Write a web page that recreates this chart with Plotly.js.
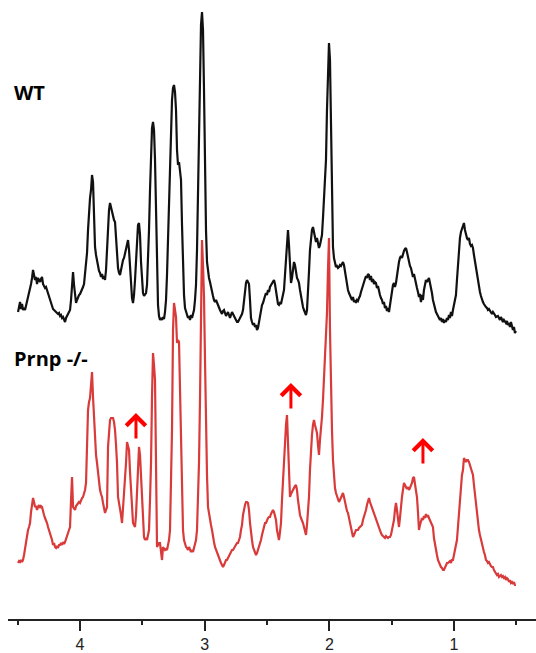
<!DOCTYPE html>
<html>
<head>
<meta charset="utf-8">
<script src="https://cdn.plot.ly/plotly-3.0.1.min.js"></script>
<style>html,body{margin:0;padding:0;background:#fff;}#chart{width:536px;height:653px;}</style>
</head>
<body>
<div id="chart"></div>
<script>
// Chemical-shift sampling of the spectra (ppm)
const ppmStart = 4.497;
const ppmStep = -0.00802;

// WT spectrum intensity (a.u., relative to its own baseline)
const wtIntensity = [
52,59,62,55,60,54,56,54,58,64,
68,72,76,80,86,94,89,84,87,80,
86,84,82,85,87,80,78,76,77,74,
71,67,64,60,58,55,54,53,52,52,
50,51,48,49,46,47,44,42,46,48,
50,51,54,64,79,92,79,66,61,64,
68,69,70,72,74,77,80,89,102,111,
134,154,166,174,189,182,149,117,109,102,
96,93,91,87,90,85,88,84,94,119,
142,154,161,157,152,146,144,142,124,106,
96,91,89,94,102,104,106,110,114,119,
124,114,94,79,66,61,69,84,106,129,
139,141,129,102,81,71,68,69,71,79,
99,134,174,214,236,242,234,204,149,94,
59,48,44,46,44,47,45,52,64,89,
124,164,204,239,264,276,279,272,254,214,
199,202,194,184,139,94,69,56,52,51,
46,48,44,49,46,50,54,64,79,114,
174,244,304,339,352,334,274,194,134,102,
91,86,82,76,72,68,64,62,64,61,
58,56,54,52,50,53,54,51,48,50,
52,49,46,49,52,50,48,46,44,42,
42,44,46,48,50,54,64,74,81,84,
82,80,64,46,42,39,41,37,39,34,
36,42,46,52,59,61,66,68,71,69,
74,72,77,79,81,83,84,80,72,64,
60,59,61,60,64,69,74,89,109,126,
134,119,89,81,86,96,102,99,92,86,
84,81,74,67,61,57,54,51,49,54,
69,92,114,126,134,137,132,124,122,126,
120,116,119,124,129,146,164,174,204,254,
304,321,304,244,164,117,106,101,97,98,
96,97,99,98,101,102,99,92,84,78,
74,71,69,66,64,67,62,64,61,64,
63,66,68,72,76,79,82,85,88,86,
90,89,84,88,82,85,80,82,81,76,
78,72,69,66,64,60,62,56,58,53,
56,52,59,66,74,79,81,77,81,89,
96,102,106,108,106,111,113,115,116,112,
106,102,98,96,91,87,90,84,80,76,
72,67,70,62,69,64,74,79,84,82,
85,86,81,77,71,64,59,55,52,50,
48,47,44,46,42,45,41,44,42,46,
44,49,46,52,48,54,59,62,69,84,
102,116,126,132,136,139,141,134,129,126,
124,126,120,118,119,116,109,102,96,89,
82,77,72,68,64,62,60,58,57,56,
54,55,53,52,50,52,51,49,47,48,
48,46,44,47,45,42,44,43,41,43,
39,41,37,42,38,34,37,31,33
];

// Prnp -/- spectrum intensity (a.u.)
const koIntensity = [
56,58,57,59,57,59,64,71,79,84,
89,92,96,107,114,121,117,112,113,109,
112,114,111,113,112,107,104,101,99,96,
92,89,86,82,79,74,76,72,71,73,
71,74,74,76,74,77,75,77,81,84,
86,89,92,119,142,112,111,109,113,114,
115,117,116,119,121,122,125,129,136,169,
209,217,221,234,247,222,199,176,164,156,
144,136,129,125,122,116,109,106,109,112,
172,187,199,201,201,201,197,189,174,156,
122,117,112,104,96,109,122,139,156,177,
174,169,147,126,109,96,94,92,104,122,
149,172,164,144,119,94,82,79,81,79,
84,89,119,156,222,266,254,239,156,72,
74,76,76,67,59,72,71,69,70,69,
74,79,89,129,189,289,316,309,302,276,
279,277,229,189,156,89,79,74,72,71,
69,72,69,67,69,67,71,74,79,89,
119,156,219,289,379,354,322,259,189,144,
112,104,99,94,89,81,77,72,69,66,
64,61,59,56,54,52,54,57,59,59,
61,64,66,67,69,69,71,72,74,76,
76,79,82,89,94,104,112,114,117,117,
116,109,96,84,79,72,69,67,64,66,
69,72,76,79,84,89,91,96,96,99,
101,102,102,105,107,109,107,104,99,89,
83,79,87,96,119,139,161,182,194,204,
172,144,122,125,127,129,132,133,134,129,
119,109,104,101,99,96,92,89,84,94,
109,122,149,172,184,194,199,194,189,186,
174,164,179,189,202,219,239,269,289,306,
349,381,289,229,189,159,139,131,126,122,
119,117,119,121,124,126,122,116,111,108,
106,101,96,91,86,82,84,87,89,89,
89,91,92,93,94,99,102,106,109,114,
119,121,117,114,112,109,105,102,99,96,
93,91,89,86,84,83,82,81,83,82,
81,82,82,84,89,95,99,109,116,109,
99,92,101,114,122,129,136,134,132,130,
132,129,131,133,136,141,142,135,127,122,
107,89,94,99,101,99,103,101,105,102,
104,101,99,96,94,92,81,74,69,64,
59,56,54,52,51,49,49,51,53,56,
56,57,58,56,59,59,64,67,72,79,
92,106,119,134,144,149,161,159,157,159,
159,157,154,151,147,144,134,124,116,107,
99,89,84,79,74,72,67,64,59,58,
56,57,54,53,52,52,49,47,46,44,
45,42,43,44,42,43,41,42,39,41,
40,37,39,36,37,35,37,34,34
];

// Peaks increased in Prnp -/- (arrow tips: ppm, intensity)
const arrowPpm = [3.551, 2.308, 1.249];
const arrowIntensity = [206, 236, 181];

// Axis ticks
const tickValues = [4, 3, 2, 1];
const tickLabels = ['4', '3', '2', '1'];

// Sample labels
const sampleLabels = ['WT', 'Prnp -/-'];

const WT_OFFSET = 255;

const traces = [
  {
    type: 'scatter', mode: 'lines', name: sampleLabels[1],
    x0: ppmStart, dx: ppmStep, y: koIntensity,
    line: {color: '#d93a3a', width: 2.2}, hoverinfo: 'skip'
  },
  {
    type: 'scatter', mode: 'lines', name: sampleLabels[0],
    x0: ppmStart, dx: ppmStep, y: wtIntensity.map(v => v + WT_OFFSET),
    line: {color: '#111111', width: 2.2}, hoverinfo: 'skip'
  }
];

const annotations = [
  {xref: 'paper', yref: 'paper', x: 0.0076, y: 0.851, xanchor: 'left', yanchor: 'middle',
   text: '<b>' + sampleLabels[0] + '</b>', showarrow: false,
   font: {family: 'Open Sans, sans-serif', size: 20, color: '#000'}},
  {xref: 'paper', yref: 'paper', x: 0.0076, y: 0.4216, xanchor: 'left', yanchor: 'middle',
   text: '<b>' + sampleLabels[1] + '</b>', showarrow: false,
   font: {family: 'Open Sans, sans-serif', size: 20, color: '#000'}}
];
arrowPpm.forEach((p, i) => {
  annotations.push({
    xref: 'x', yref: 'y', x: p, y: arrowIntensity[i], text: '',
    showarrow: true, ax: 0, ay: 27, arrowhead: 4, arrowsize: 1.25, arrowwidth: 3,
    arrowcolor: '#ff0000', standoff: 0
  });
});

const layout = {
  width: 536, height: 653,
  margin: {l: 8, r: 0, t: 0, b: 34, pad: 0},
  paper_bgcolor: '#fff', plot_bgcolor: '#fff',
  showlegend: false,
  xaxis: {
    range: [4.5775, 0.3422], autorange: false,
    tickmode: 'array', tickvals: tickValues, ticktext: tickLabels,
    ticks: 'outside', ticklen: 10, tickwidth: 2, tickcolor: '#222',
    minor: {dtick: 0.5, tick0: 0, ticks: 'outside', ticklen: 4, tickwidth: 2, tickcolor: '#222'},
    showline: true, linewidth: 2, linecolor: '#222',
    showgrid: false, zeroline: false,
    tickfont: {family: 'Liberation Sans, Arial, sans-serif', size: 16, color: '#222'}
  },
  yaxis: {range: [0, 619], autorange: false, visible: false, showgrid: false, zeroline: false},
  annotations: annotations
};

Plotly.newPlot('chart', traces, layout, {staticPlot: true, displayModeBar: false});
</script>
</body>
</html>
